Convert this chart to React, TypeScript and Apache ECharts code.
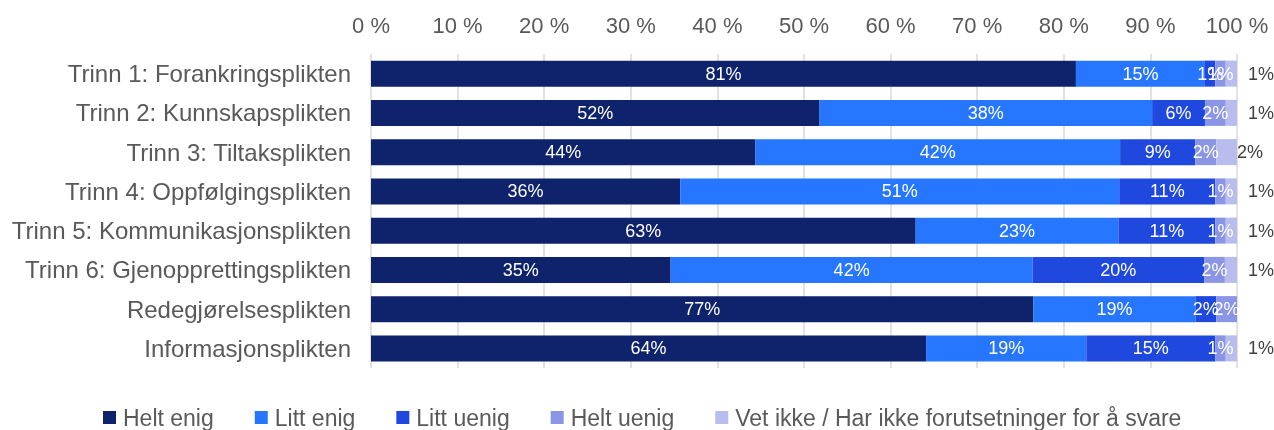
import React, { useEffect, useRef } from "react";
import * as echarts from "echarts";

const categories = [
  "Trinn 1: Forankringsplikten",
  "Trinn 2: Kunnskapsplikten",
  "Trinn 3: Tiltaksplikten",
  "Trinn 4: Oppfølgingsplikten",
  "Trinn 5: Kommunikasjonsplikten",
  "Trinn 6: Gjenopprettingsplikten",
  "Redegjørelsesplikten",
  "Informasjonsplikten",
];

const seriesNames = [
  "Helt enig",
  "Litt enig",
  "Litt uenig",
  "Helt uenig",
  "Vet ikke / Har ikke forutsetninger for å svare",
];

const heltEnig = [81.4, 51.8, 44.4, 35.7, 62.9, 34.6, 76.5, 64.1];
const littEnig = [14.9, 38.4, 42.1, 50.7, 23.4, 41.8, 18.7, 18.5];
const littUenig = [1.2, 6.1, 8.7, 11.1, 11.2, 19.8, 2.4, 14.9];
const heltUenig = [1.2, 2.4, 2.4, 1.2, 1.2, 2.4, 2.4, 1.2];
const vetIkke = [1.3, 1.3, 2.4, 1.3, 1.3, 1.4, 0, 1.3];

const tickValues = [0, 10, 20, 30, 40, 50, 60, 70, 80, 90, 100];

const colors = ["#0E236B", "#2676FF", "#1F49DE", "#8B95E6", "#B8BDEE"];

const FONT = "'Liberation Sans', Arial, sans-serif";

export default function App() {
  const ref = useRef<HTMLDivElement>(null);

  useEffect(() => {
    if (!ref.current) return;
    const chart = echarts.init(ref.current, undefined, { renderer: "svg" });
    const allData = [heltEnig, littEnig, littUenig, heltUenig, vetIkke];
    const fmt = (p: any) => {
      const v = typeof p.value === "number" ? p.value : Number(p.value);
      if (!v) return "";
      return Math.round(v) + "%";
    };
    const series = allData.map((arr, i) => {
      const last = i === allData.length - 1;
      return {
        name: seriesNames[i],
        type: "bar",
        stack: "total",
        barWidth: 26,
        itemStyle: { color: colors[i] },
        label: last
          ? {
              show: true,
              position: "right",
              distance: 11,
              color: "#404040",
              fontSize: 18,
              fontFamily: FONT,
              formatter: fmt,
            }
          : {
              show: true,
              position: "inside",
              color: "#ffffff",
              fontSize: 18,
              fontFamily: FONT,
              formatter: fmt,
            },
        data: arr.map((v, j) =>
          last && j === 2 ? { value: v, label: { distance: 0 } } : v
        ),
      };
    });

    chart.setOption({
      animation: false,
      color: colors,
      textStyle: { fontFamily: FONT },
      grid: { left: 371, right: 37, top: 54, height: 314 },
      legend: {
        data: seriesNames,
        left: 98,
        top: 401,
        icon: "rect",
        itemWidth: 13,
        itemHeight: 13,
        itemGap: 41,
        textStyle: {
          fontSize: 23,
          lineHeight: 23,
          color: "#595959",
          fontFamily: FONT,
          padding: [0, 0, 0, 2],
        },
      },
      xAxis: {
        type: "value",
        position: "top",
        min: tickValues[0],
        max: tickValues[tickValues.length - 1],
        interval: 10,
        axisLine: { show: false },
        axisTick: { show: false },
        axisLabel: {
          formatter: "{value} %",
          fontSize: 22,
          color: "#595959",
          margin: 18,
          fontFamily: FONT,
        },
        splitLine: { show: true, lineStyle: { color: "#D9D9D9", width: 1.5 } },
      },
      yAxis: {
        type: "category",
        data: categories,
        inverse: true,
        axisLine: { show: false },
        axisTick: { show: false },
        axisLabel: {
          fontSize: 24,
          color: "#595959",
          margin: 20,
          fontFamily: FONT,
        },
      },
      series,
    });
    return () => chart.dispose();
  }, []);

  return (
    <div
      ref={ref}
      style={{ position: "fixed", left: 0, top: 0, width: 1274, height: 430 }}
    />
  );
}
